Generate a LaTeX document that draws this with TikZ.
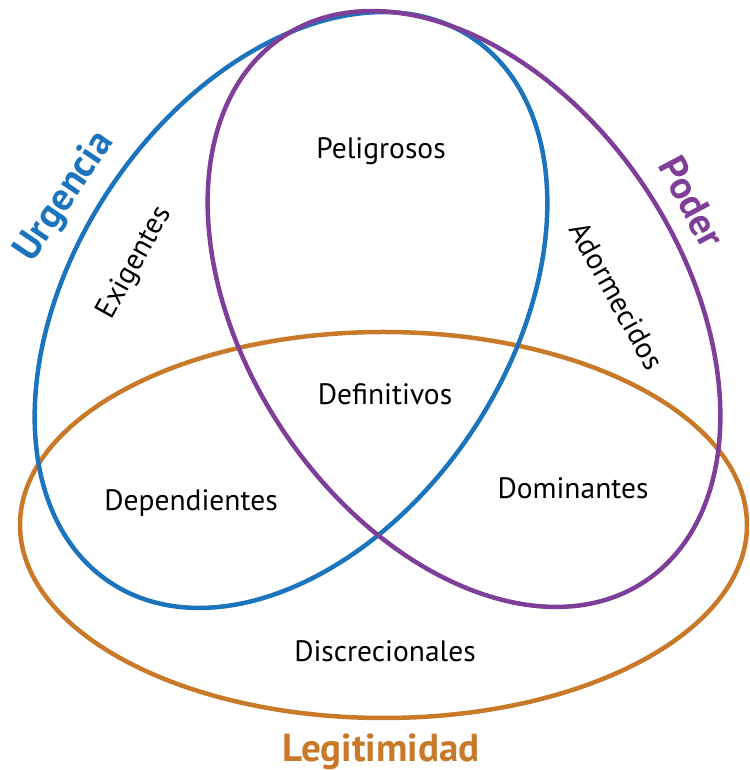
\documentclass[tikz,border=0pt]{standalone}
\usepackage{fontspec}
\setmainfont{PT Sans}
\definecolor{ublue}{HTML}{1C75BC}
\definecolor{ppurple}{HTML}{7F3F98}
\definecolor{lorange}{HTML}{C87A2A}
\begin{document}
\begin{tikzpicture}[x=1pt,y=1pt,
  ring/.style={line width=4.5pt},
  lbl/.style={font=\fontsize{29.5}{32}\selectfont, inner sep=0pt},
  title/.style={font=\fontsize{39}{42}\selectfont\bfseries, inner sep=0pt}]
\useasboundingbox (0,0) rectangle (749,770);
% Legitimidad
\draw[ring, lorange] (383.5,245) ellipse [x radius=363.5pt, y radius=193pt];
% Urgencia
\draw[ring, ublue, rotate around={56.4:(291,460)}] (291,460) ellipse [x radius=327pt, y radius=218pt];
% Poder
\draw[ring, ppurple, rotate around={-56.4:(464,461)}] (464,461) ellipse [x radius=327pt, y radius=218pt];

\node[lbl] (peligrosos) at (381,619) {Peligrosos};
\node[lbl, rotate=61] (exigentes) at (135,507) {Exigentes};
\node[lbl, rotate=-61] (adormecidos) at (617,474) {Adormecidos};
\node[lbl] (definitivos) at (385,376) {Definitivos};
\node[lbl] (dependientes) at (191,267) {Dependientes};
\node[lbl] (dominantes) at (573,282) {Dominantes};
\node[lbl] (discrecionales) at (385,119) {Discrecionales};

\node[title, ublue, rotate=56] (urgencia) at (65,573) {Urgencia};
\node[title, ppurple, rotate=-62] (poder) at (692,568) {Poder};
\node[title, lorange] (legitimidad) at (381,18) {Legitimidad};
\end{tikzpicture}
\end{document}
